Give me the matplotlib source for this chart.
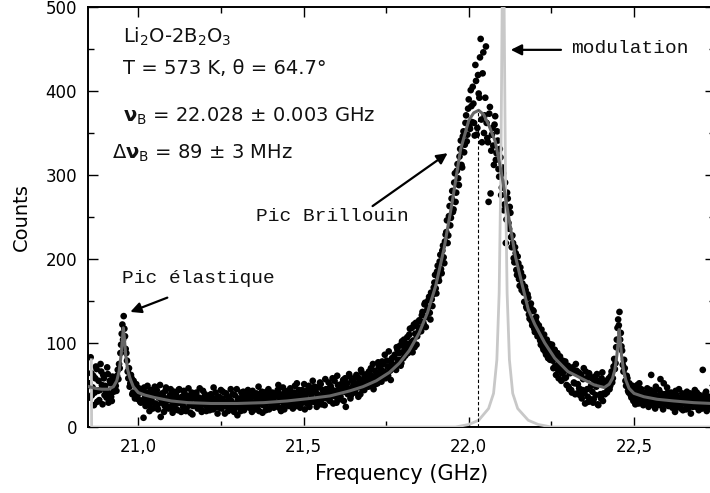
import numpy as np
import matplotlib
matplotlib.use("Agg")
import matplotlib.pyplot as plt
from matplotlib.ticker import MultipleLocator, FuncFormatter

# spectrum: two interleaved channel grids (GHz) and counts read per channel
freq_first_a, freq_last_a = 20.852, 22.732
counts_a = [
    52, 83, 38, 61, 41, 72, 30, 55, 44, 66,
    27, 58, 49, 35, 63, 40, 52, 31, 57, 46,
    49, 61, 57, 70, 98, 122, 132, 108, 88, 66,
    70, 52, 58, 41, 50, 36, 47, 33, 44, 29,
    45, 11, 38, 30, 49, 26, 41, 33, 22, 39,
    28, 44, 21, 36, 12, 40, 30, 25, 47, 34,
    22, 38, 31, 17, 42, 27, 35, 20, 45, 29,
    36, 24, 40, 19, 31, 46, 26, 33, 15, 38,
    27, 41, 22, 35, 30, 18, 43, 28, 37, 24,
    33, 20, 39, 26, 47, 23, 31, 16, 36, 29,
    22, 42, 30, 25, 37, 19, 33, 45, 27, 21,
    38, 28, 14, 34, 24, 41, 30, 20, 36, 26,
    44, 23, 32, 18, 39, 29, 35, 22, 48, 27,
    31, 17, 37, 26, 42, 33, 21, 38, 28, 34,
    24, 40, 29, 50, 35, 19, 37, 27, 43, 32,
    38, 25, 46, 30, 22, 41, 33, 52, 28, 36,
    27, 44, 35, 21, 40, 31, 49, 29, 38, 55,
    30, 42, 24, 47, 36, 51, 33, 40, 26, 45,
    39, 53, 31, 46, 58, 37, 43, 29, 50, 41,
    36, 49, 56, 42, 24, 52, 45, 60, 38, 48,
    54, 41, 62, 47, 58, 39, 65, 51, 44, 57,
    63, 48, 58, 70, 53, 45, 67, 59, 52, 72,
    62, 54, 75, 66, 58, 79, 61, 70, 56, 82,
    74, 86, 68, 92, 80, 97, 76, 89, 104, 85,
    99, 88, 110, 96, 118, 103, 95, 124, 108, 113,
    126, 114, 137, 122, 148, 131, 142, 155, 128, 152,
    158, 172, 165, 185, 178, 197, 188, 210, 202, 221,
    232, 219, 251, 240, 272, 256, 291, 268, 305, 296,
    322, 341, 309, 352, 336, 371, 348, 390, 355, 382,
    405, 362, 431, 348, 419, 392, 462, 339, 446, 371,
    453, 344, 268, 381, 329, 356, 312, 370, 326, 341,
    298, 321, 285, 302, 265, 219, 279, 243, 262, 226,
    228, 201, 214, 187, 203, 176, 190, 163, 179, 149,
    163, 141, 154, 129, 147, 121, 138, 113, 131, 108,
    121, 103, 116, 95, 110, 89, 104, 82, 99, 85,
    98, 70, 92, 62, 88, 58, 84, 55, 79, 66,
    78, 50, 73, 45, 69, 41, 66, 52, 75, 40,
    65, 38, 61, 44, 70, 28, 58, 36, 64, 33,
    58, 29, 55, 38, 63, 26, 52, 34, 65, 40,
    39, 55, 44, 58, 49, 66, 58, 81, 76, 104,
    128, 137, 112, 91, 66, 70, 49, 58, 41, 50,
    35, 49, 38, 27, 44, 33, 52, 30, 41, 26,
    39, 29, 46, 24, 37, 62, 31, 42, 22, 35,
    28, 44, 57, 33, 21, 39, 30, 47, 25, 36,
    41, 23, 34, 18, 38, 29, 45, 26, 33, 20,
    36, 27, 42, 22, 31, 16, 39, 28, 44, 24,
    33, 20, 37, 29, 68, 25, 40, 19, 35, 27,
    31,
]

freq_first_b, freq_last_b = 20.854, 22.730
counts_b = [
    35, 64, 47, 26, 58, 69, 43, 32, 75, 50,
    62, 38, 44, 71, 29, 55, 36, 60, 42, 53,
    43, 68, 75, 88, 111, 104, 117, 93, 79, 58,
    48, 62, 39, 55, 34, 51, 38, 46, 30, 43,
    32, 47, 25, 41, 35, 19, 44, 29, 38, 48,
    41, 26, 35, 50, 29, 38, 18, 43, 31, 24,
    35, 45, 24, 33, 21, 39, 28, 44, 32, 18,
    27, 43, 33, 22, 37, 29, 17, 41, 25, 35,
    40, 31, 25, 46, 21, 34, 27, 39, 19, 32,
    25, 38, 30, 21, 34, 41, 27, 36, 23, 44,
    34, 27, 16, 40, 29, 35, 24, 31, 39, 18,
    23, 45, 33, 27, 19, 35, 42, 26, 30, 40,
    30, 36, 25, 43, 27, 21, 40, 32, 19, 38,
    42, 26, 33, 20, 36, 45, 29, 24, 41, 23,
    36, 28, 44, 23, 39, 31, 47, 21, 34, 39,
    29, 42, 34, 38, 27, 49, 25, 37, 44, 23,
    40, 31, 51, 36, 28, 45, 24, 42, 33, 47,
    48, 33, 39, 29, 53, 27, 44, 37, 57, 34,
    45, 34, 49, 40, 28, 55, 36, 61, 44, 33,
    51, 43, 31, 58, 47, 39, 63, 34, 55, 46,
    42, 59, 50, 36, 53, 68, 45, 56, 61, 49,
    56, 66, 49, 61, 75, 57, 51, 64, 77, 60,
    69, 78, 59, 86, 63, 72, 90, 67, 76, 71,
    83, 72, 95, 78, 88, 73, 102, 82, 94, 99,
    107, 93, 117, 101, 89, 122, 111, 98, 119, 127,
    118, 133, 125, 146, 119, 139, 151, 136, 160, 144,
    166, 181, 159, 192, 174, 205, 183, 216, 195, 229,
    246, 228, 263, 249, 281, 259, 302, 279, 313, 288,
    331, 312, 346, 327, 362, 340, 379, 357, 401, 363,
    385, 347, 412, 356, 397, 440, 366, 421, 350, 392,
    362, 339, 373, 278, 348, 335, 360, 318, 352, 307,
    331, 276, 309, 258, 291, 247, 272, 236, 255, 214,
    219, 196, 207, 181, 195, 168, 184, 171, 160, 167,
    143, 158, 134, 143, 126, 139, 117, 128, 124, 111,
    114, 98, 108, 92, 101, 86, 96, 91, 80, 93,
    79, 86, 73, 82, 68, 76, 71, 64, 73, 58,
    59, 72, 48, 64, 44, 71, 53, 39, 67, 51,
    46, 63, 34, 57, 40, 66, 45, 30, 61, 49,
    42, 33, 60, 48, 27, 55, 39, 58, 31, 52,
    52, 41, 56, 45, 61, 53, 72, 69, 95, 118,
    121, 104, 96, 74, 80, 55, 61, 43, 52, 38,
    46, 31, 42, 36, 50, 28, 39, 45, 33, 40,
    30, 41, 33, 27, 44, 36, 26, 39, 48, 31,
    37, 26, 40, 31, 52, 27, 35, 41, 29, 38,
    27, 36, 30, 43, 24, 35, 31, 22, 40, 29,
    32, 21, 35, 28, 40, 33, 24, 36, 30, 41,
    26, 38, 30, 22, 34, 29, 42, 31, 24, 36,
]

freq_a = np.linspace(freq_first_a, freq_last_a, len(counts_a))
freq_b = np.linspace(freq_first_b, freq_last_b, len(counts_b))

# fitted curve (dark grey)
fit_freq = [20.852, 20.87, 20.89, 20.91, 20.925, 20.935, 20.942, 20.948, 20.952, 20.955,
            20.958, 20.962, 20.968, 20.975, 20.985, 21.00, 21.02, 21.05, 21.10, 21.15,
            21.22, 21.30, 21.38, 21.45, 21.52, 21.58, 21.64, 21.68, 21.72, 21.76,
            21.79, 21.82, 21.85, 21.875, 21.90, 21.925, 21.95, 21.975, 22.00, 22.015,
            22.03, 22.045, 22.06, 22.08, 22.10, 22.12, 22.14, 22.16, 22.18, 22.20,
            22.23, 22.26, 22.30, 22.34, 22.38, 22.41, 22.425, 22.435, 22.442, 22.448,
            22.452, 22.455, 22.458, 22.462, 22.468, 22.475, 22.485, 22.50, 22.53, 22.57,
            22.62, 22.68, 22.735]
fit_counts = [48, 46, 45, 45, 48, 55, 66, 85, 104, 118,
              106, 86, 68, 58, 48, 41, 38, 35, 31, 29,
              28, 28, 29, 31, 34, 37, 43, 48, 55, 65,
              76, 91, 112, 136, 168, 212, 268, 330, 365, 374,
              377, 372, 360, 340, 300, 252, 205, 172, 140, 122,
              100, 82, 66, 58, 50, 47, 51, 58, 68, 85,
              102, 116, 104, 86, 68, 56, 46, 40, 36, 33,
              31, 29, 28]

# modulation line (light grey)
mod_freq = [20.858, 20.859, 21.96, 22.00, 22.03, 22.06, 22.075, 22.085, 22.092, 22.097,
            22.101, 22.104, 22.107, 22.111, 22.116, 22.123, 22.133, 22.148, 22.18, 22.21,
            22.25, 22.745]
mod_counts = [80, 0, 0, 3, 8, 22, 40, 80, 160, 300,
              500, 600, 500, 300, 160, 80, 40, 22, 8, 3,
              0, 0]

nu_B = 22.028

plt.rcParams['font.family'] = ['DejaVu Sans']
plt.rcParams['mathtext.fontset'] = 'dejavusans'

fig = plt.figure(figsize=(7.10, 4.93), dpi=100)
ax = fig.add_axes([88 / 710, 1 - 427 / 493, 627 / 710, 420 / 493])

ax.scatter(freq_a, counts_a, s=23, color='black', edgecolors='none', zorder=2)
ax.scatter(freq_b, counts_b, s=23, color='black', edgecolors='none', zorder=2)
ax.plot(mod_freq, mod_counts, color='#c8c8c8', lw=2.0, zorder=3)
ax.plot(fit_freq, fit_counts, color='#666666', lw=2.2, zorder=4)
ax.vlines(nu_B, 0, max(fit_counts), colors='black', linestyles=(0, (3, 2)), lw=0.8, zorder=5)

ax.set_xlim(20.848, 22.745)
ax.set_ylim(0, 500)
ax.xaxis.set_major_locator(MultipleLocator(0.5))
ax.xaxis.set_minor_locator(MultipleLocator(0.25))
ax.yaxis.set_major_locator(MultipleLocator(100))
ax.yaxis.set_minor_locator(MultipleLocator(50))
ax.xaxis.set_major_formatter(FuncFormatter(lambda v, p: f"{v:.1f}".replace('.', ',')))
ax.tick_params(which='both', direction='in', top=True, right=True, width=1.0)
ax.tick_params(which='major', length=7.5, labelsize=12, pad=8)
ax.tick_params(which='minor', length=4.5)
for s in ax.spines.values():
    s.set_linewidth(1.4)

ax.set_xlabel('Frequency (GHz)', fontsize=15, labelpad=6)
ax.set_ylabel('Counts', fontsize=14, labelpad=10)

txt = dict(fontsize=14, color='#111111', va='baseline')
ax.text(20.955, 457, r'Li$_2$O-2B$_2$O$_3$', **txt)
ax.text(20.955, 420, 'T = 573 K, θ = 64.7°', **txt)
ax.text(20.955, 364, r'$\mathbf{\nu}_\mathrm{B}$ = 22.028 ± 0.003 GHz', **txt)
ax.text(20.921, 320, r'$\Delta\mathbf{\nu}_\mathrm{B}$ = 89 ± 3 MHz', **txt)

mono = dict(fontsize=14, color='#111111', va='baseline', family='Liberation Mono')
ax.text(22.309, 445, 'modulation', **mono)
ax.text(21.355, 245, 'Pic Brillouin', **mono)
ax.text(20.952, 171, 'Pic élastique', **mono)

arrow = dict(arrowstyle='-|>', color='black', lw=1.6, mutation_scale=16, shrinkA=0, shrinkB=0)
ax.annotate('', xy=(22.127, 449), xytext=(22.279, 449), arrowprops=arrow)
ax.annotate('', xy=(21.936, 326), xytext=(21.709, 263), arrowprops=arrow)
ax.annotate('', xy=(20.976, 137), xytext=(21.088, 154), arrowprops=arrow)

fig.savefig('out.png', dpi=100)
